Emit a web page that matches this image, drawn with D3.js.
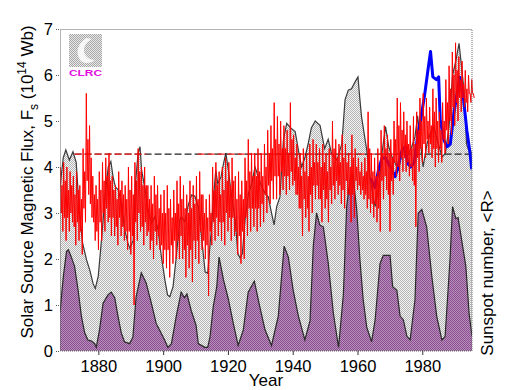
<!DOCTYPE html>
<html><head><meta charset="utf-8">
<script src="https://cdn.jsdelivr.net/npm/d3@7"></script>
<style>body{margin:0;background:#fff;} svg{display:block;font-family:"Liberation Sans",Arial,sans-serif;}</style>
</head><body><svg id="c" width="507" height="390"></svg>
<script>
// ---------- data ----------
const xTicks = [1880, 1900, 1920, 1940, 1960, 1980];
const yTicks = [0, 1, 2, 3, 4, 5, 6, 7];

// model open flux (grey filled curve)
const modelYears = [1868.0,1869.0,1869.8,1870.9,1872.0,1873.0,1874.0,1875.0,1876.2,1877.2,1878.2,1878.9,1879.8,1880.8,1881.9,1882.9,1883.7,1884.4,1885.1,1886.0,1887.0,1888.0,1889.0,1889.6,1890.6,1891.3,1892.1,1892.7,1893.2,1894.2,1895.2,1896.3,1897.3,1897.8,1898.3,1899.3,1900.4,1901.2,1901.9,1902.9,1903.9,1905.0,1905.5,1906.5,1907.6,1908.6,1909.6,1910.7,1911.8,1912.8,1913.6,1914.7,1915.4,1916.1,1916.7,1917.7,1918.5,1919.2,1920.0,1921.0,1922.1,1922.9,1923.6,1924.3,1925.2,1926.2,1927.2,1928.2,1929.3,1930.3,1931.3,1932.3,1933.1,1934.1,1934.9,1935.9,1937.0,1938.0,1939.2,1940.6,1941.6,1942.6,1943.6,1944.6,1945.6,1946.8,1948.3,1949.7,1950.8,1951.8,1953.5,1955.0,1956.0,1957.0,1958.0,1959.1,1960.0,1960.6,1961.1,1962.7,1963.7,1964.7,1965.3,1966.4,1967.4,1968.5,1969.5,1970.5,1971.5,1972.5,1973.6,1974.6,1975.6,1976.6,1977.6,1978.4,1979.2,1980.1,1981.3,1982.3,1983.4,1984.8,1986.0,1987.0,1988.1,1989.2,1990.2,1991.2,1992.3,1993.0,1993.5,1994.0,1995.2];
const modelFlux  = [3.55,4.2,4.37,4.15,4.33,4.1,3.0,2.34,1.98,1.76,1.47,1.36,1.62,2.41,3.35,4.0,4.12,3.78,3.57,3.5,3.21,2.63,2.34,2.23,2.41,3.64,4.3,4.44,3.93,3.54,3.07,2.78,2.92,2.78,2.63,2.05,1.54,1.22,1.18,1.4,2.05,2.85,2.92,2.81,3.17,3.39,3.37,3.14,2.41,1.72,1.69,2.63,3.35,3.93,3.64,3.78,4.08,4.3,3.93,3.35,2.85,2.12,2.02,2.12,2.92,3.43,3.64,4.0,3.78,3.57,3.43,3.35,3.07,2.74,3.14,3.35,4.6,4.95,4.85,4.77,4.37,4.0,4.2,4.5,4.85,5.0,4.9,4.4,4.6,4.3,4.15,4.5,5.46,5.67,5.7,5.85,5.96,5.46,5.09,4.37,3.79,3.35,3.14,3.57,4.3,4.88,4.44,4.22,4.08,3.93,4.3,4.37,4.3,4.44,4.66,5.11,4.6,4.0,4.5,4.73,4.88,4.5,4.22,4.3,4.88,6.0,6.3,6.69,5.96,5.46,4.5,4.4,4.3];

// sunspot number (purple filled curve, right axis)
const sunspotYears = [1868.0,1869.0,1870.0,1870.6,1871.5,1872.5,1873.6,1874.6,1875.6,1876.6,1877.6,1878.7,1879.2,1880.2,1881.3,1882.8,1883.8,1884.9,1885.9,1886.9,1887.9,1889.5,1890.5,1891.5,1893.1,1894.6,1896.2,1897.7,1898.7,1900.3,1901.3,1902.4,1903.9,1905.4,1906.4,1907.2,1908.5,1910.0,1910.7,1912.7,1913.6,1914.3,1915.3,1916.4,1917.1,1918.5,1920.0,1921.5,1923.0,1924.6,1926.1,1928.0,1929.7,1931.3,1933.3,1935.4,1937.2,1938.5,1940.0,1941.6,1943.6,1945.2,1946.2,1947.2,1948.2,1949.3,1950.8,1952.4,1954.0,1955.5,1956.5,1957.5,1958.4,1959.6,1960.6,1961.6,1962.7,1964.2,1965.3,1966.8,1967.8,1969.9,1970.7,1972.0,1973.0,1974.0,1975.1,1976.1,1977.6,1978.6,1979.7,1981.2,1982.8,1984.3,1985.9,1986.9,1988.4,1989.2,1990.2,1990.9,1993.3,1994.3,1995.2];
const sunspotR     = [42,80,108,110,102,92,66,38,20,12,11,8,4,23,52,61,64,58,38,20,10,8,15,59,85,74,52,30,23,12,4,8,38,64,58,62,44,28,8,4,4,15,48,70,102,77,56,30,6,23,64,76,48,23,6,38,114,102,66,38,12,33,114,150,137,135,96,41,4,62,157,186,192,154,99,56,26,10,34,95,104,104,70,66,38,34,16,12,56,150,154,135,81,38,12,16,99,157,144,145,92,41,16];

// IMF-derived flux (blue)
const blueYears = [1963.9,1965.3,1966.3,1967.4,1968.4,1969.4,1970.5,1971.5,1972.6,1973.6,1974.6,1975.3,1976.3,1977.4,1978.4,1979.5,1980.5,1981.6,1982.4,1983.1,1984.2,1984.9,1985.4,1986.5,1987.5,1988.5,1989.6,1990.6,1991.4,1992.5,1993.6,1994.6,1995.1];
const blueFlux  = [3.75,3.55,3.93,4.19,4.2,4.08,3.93,3.79,4.08,4.37,4.44,4.08,4.0,4.1,4.66,5.09,5.53,6.11,6.51,5.96,5.9,5.96,5.02,4.59,4.44,4.5,5.17,5.6,5.95,5.53,4.8,4.3,3.95];

// aa-derived flux (red), 1868..1995: per year, first-half high/low and second-half high/low
const redStartYear = 1868;
const redHiA = [4.0,4.1,4.0,3.9,3.8,3.9,3.6,4.4,5.6,4.9,
  3.8,3.6,3.9,4.1,4.2,4.3,3.8,3.6,3.9,3.7,
  3.6,4.0,3.8,4.1,4.4,4.0,4.0,3.6,3.6,3.8,
  3.6,3.4,3.5,3.6,3.3,3.5,3.7,3.8,3.6,3.4,
  3.7,3.6,3.8,3.9,3.4,3.3,3.4,4.0,4.1,3.9,
  4.0,4.2,4.1,4.2,3.8,3.9,3.7,4.2,4.6,4.3,
  4.3,4.4,4.3,4.5,4.8,4.9,5.4,5.1,5.0,4.9,
  4.8,5.4,4.7,4.5,4.3,4.4,4.3,4.5,4.6,4.5,
  4.4,4.5,4.3,4.4,5.0,4.6,4.5,4.7,4.5,4.3,
  4.7,4.4,4.2,4.1,4.2,5.2,4.3,4.2,4.4,4.8,
  4.9,4.7,4.6,5.0,5.5,5.4,5.2,5.0,4.9,5.1,
  5.2,5.5,5.6,5.5,5.3,5.7,5.5,5.2,5.4,5.9,
  6.2,6.5,6.7,6.4,6.3,6.1,6.0,5.9];
const redLoA = [2.6,2.4,2.6,2.8,2.3,2.4,2.1,2.8,3.4,2.9,
  2.4,2.2,2.4,2.6,2.8,2.5,2.5,2.3,2.5,2.4,
  2.2,2.1,1.0,2.4,2.6,2.3,2.5,2.2,2.0,2.3,
  2.2,1.9,1.8,1.6,1.9,2.0,2.0,2.0,1.6,1.8,
  1.5,2.0,1.9,2.2,2.0,1.2,2.3,2.4,2.5,2.4,
  2.3,2.6,2.4,2.5,2.1,1.9,2.0,2.5,2.6,2.7,
  2.6,2.7,2.8,3.0,3.2,3.3,3.3,3.4,3.5,3.4,
  3.5,3.6,3.4,3.1,2.5,2.9,2.6,3.0,3.3,3.3,
  2.8,3.1,2.8,3.2,3.3,3.4,3.2,3.1,3.4,2.8,
  2.9,3.5,3.4,3.3,3.1,3.0,2.9,2.8,2.6,3.3,
  3.5,2.6,3.4,3.8,3.7,3.9,3.9,3.8,3.7,2.7,
  3.9,4.1,4.2,4.3,4.2,4.0,4.1,4.1,4.3,4.5,
  4.7,4.9,5.0,5.2,5.3,5.2,5.4,5.5];
const redHiB = [3.6,3.7,3.5,3.6,3.4,3.5,3.3,3.9,4.6,4.2,
  3.4,3.3,3.5,3.7,3.8,3.7,3.5,3.3,3.5,3.4,
  3.3,3.5,3.4,3.7,3.9,3.6,3.6,3.3,3.2,3.4,
  3.1,3.0,3.0,3.1,2.9,3.0,3.2,3.3,3.1,3.0,
  3.1,3.2,3.3,3.4,3.0,2.9,3.0,3.5,3.6,3.4,
  3.5,3.7,3.6,3.7,3.3,3.4,3.3,3.7,3.9,3.8,
  3.8,3.9,3.8,4.0,4.3,4.4,4.6,4.5,4.4,4.4,
  4.3,4.6,4.2,4.0,3.8,3.9,3.8,4.0,4.1,4.1,
  4.0,4.1,3.9,4.0,4.4,4.2,4.1,4.2,4.1,4.0,
  4.2,4.0,3.9,3.8,3.9,4.4,3.9,3.8,3.9,4.3,
  4.4,4.3,4.2,4.6,4.9,4.8,4.7,4.5,4.4,4.5,
  4.8,5.0,5.1,5.0,4.9,5.2,5.0,4.8,5.0,5.4,
  5.7,6.0,6.1,5.9,5.8,5.7,5.6,5.6];
const redLoB = [3.0,2.9,2.9,3.0,2.7,2.8,2.6,3.1,3.7,3.2,
  2.8,2.6,2.8,3.0,3.1,2.9,2.9,2.7,2.9,2.7,
  2.6,2.6,2.5,2.8,3.0,2.7,2.8,2.6,2.4,2.6,
  2.5,2.3,2.2,2.2,2.3,2.4,2.4,2.5,2.2,2.3,
  2.2,2.4,2.4,2.6,2.4,2.3,2.6,2.8,2.9,2.8,
  2.8,3.0,2.9,2.9,2.6,2.5,2.6,2.9,3.1,3.1,
  3.1,3.1,3.2,3.4,3.6,3.7,3.8,3.8,3.9,3.8,
  3.8,3.9,3.7,3.4,3.1,3.3,3.1,3.4,3.6,3.6,
  3.3,3.5,3.3,3.5,3.6,3.7,3.6,3.5,3.7,3.4,
  3.4,3.7,3.6,3.5,3.4,3.3,3.2,3.2,3.1,3.7,
  3.8,3.4,3.7,4.1,4.0,4.2,4.2,4.1,4.0,3.6,
  4.2,4.4,4.5,4.6,4.5,4.4,4.4,4.4,4.6,4.8,
  5.0,5.3,5.4,5.5,5.5,5.4,5.6,5.6];

const refLevel = 4.28;
const refStart = 1872.5, refEnd = 1995.2;
const refRedSpans = [[1872.5, 1894.6], [1910.5, 1976.0]];

// ---------- drawing ----------
const svg = d3.select("#c");
const x = d3.scaleLinear().domain([1868, 1995.2]).range([60, 472]);
const y = d3.scaleLinear().domain([0, 7]).range([351, 29]);
const yR = d3.scaleLinear().domain([0, 350]).range([351, 29]);

const defs = svg.append("defs");
function checker(id, a, b) {
  const p = defs.append("pattern").attr("id", id).attr("width", 2).attr("height", 2)
    .attr("patternUnits", "userSpaceOnUse");
  p.append("rect").attr("width", 2).attr("height", 2).attr("fill", b);
  p.append("rect").attr("x", 0).attr("y", 0).attr("width", 1).attr("height", 1).attr("fill", a);
  p.append("rect").attr("x", 1).attr("y", 1).attr("width", 1).attr("height", 1).attr("fill", a);
}
checker("greyPat", "#b4b4b4", "#f4f4f4");
checker("purplePat", "#8a4c8e", "#b892bc");
checker("logoPat", "#a8a8a8", "#e8e8e8");
defs.append("clipPath").attr("id", "plotClip").append("rect")
  .attr("x", 60).attr("y", 29).attr("width", 412).attr("height", 322);

const plot = svg.append("g").attr("clip-path", "url(#plotClip)");

const model = modelYears.map((t, i) => [t, modelFlux[i]]);
const spots = sunspotYears.map((t, i) => [t, sunspotR[i]]);
const blue = blueYears.map((t, i) => [t, blueFlux[i]]);
const red = [];
redHiA.forEach((h, i) => {
  const t = redStartYear + i;
  red.push([t + 0.125, h]);
  red.push([t + 0.375, redLoB[i]]);
  red.push([t + 0.625, redHiB[i]]);
  red.push([t + 0.875, redLoA[i]]);
});

plot.append("path").datum(model)
  .attr("d", d3.area().x(d => x(d[0])).y0(y(0)).y1(d => y(d[1])))
  .attr("fill", "url(#greyPat)");
plot.append("path").datum(spots)
  .attr("d", d3.area().x(d => x(d[0])).y0(y(0)).y1(d => yR(d[1])))
  .attr("fill", "url(#purplePat)");
plot.append("path").datum(model)
  .attr("d", d3.line().x(d => x(d[0])).y(d => y(d[1])))
  .attr("fill", "none").attr("stroke", "#3a3a3a").attr("stroke-width", 1.2);
plot.append("path").datum(spots)
  .attr("d", d3.line().x(d => x(d[0])).y(d => yR(d[1])))
  .attr("fill", "none").attr("stroke", "#2a2a2a").attr("stroke-width", 1.2);

// reference level
plot.append("line").attr("x1", x(refStart)).attr("x2", x(refEnd))
  .attr("y1", y(refLevel)).attr("y2", y(refLevel))
  .attr("stroke", "#222").attr("stroke-width", 1.3).attr("stroke-dasharray", "7,3");
refRedSpans.forEach(s => {
  plot.append("line").attr("x1", x(s[0])).attr("x2", x(s[1]))
    .attr("y1", y(refLevel)).attr("y2", y(refLevel))
    .attr("stroke", "#ff2020").attr("stroke-width", 1.3).attr("stroke-dasharray", "7,3");
});

svg.append("path").datum(red)
  .attr("d", d3.line().x(d => x(d[0])).y(d => y(d[1])))
  .attr("fill", "none").attr("stroke", "#ff0000").attr("stroke-width", 1);

plot.append("path").datum(blue)
  .attr("d", d3.line().x(d => x(d[0])).y(d => y(d[1])))
  .attr("fill", "none").attr("stroke", "#0000ff").attr("stroke-width", 3)
  .attr("stroke-linejoin", "round");

// frame (dotted)
const frame = svg.append("g").attr("stroke", "#666").attr("stroke-width", 1)
  .attr("stroke-dasharray", "1,1").attr("fill", "none");
frame.append("rect").attr("x", 60.5).attr("y", 29.5).attr("width", 411.5).attr("height", 321.5);

// y axis
const ya = svg.append("g");
yTicks.forEach(v => {
  ya.append("line").attr("x1", 56).attr("x2", 60).attr("y1", y(v) + 0.5).attr("y2", y(v) + 0.5)
    .attr("stroke", "#555").attr("stroke-dasharray", "1,1");
  ya.append("text").attr("x", 53).attr("y", y(v) + 6).attr("text-anchor", "end")
    .attr("font-size", 16.5).attr("fill", "#000").text(d3.format("d")(v));
});
// x axis
const xa = svg.append("g");
xTicks.forEach(v => {
  xa.append("line").attr("x1", x(v)).attr("x2", x(v)).attr("y1", 351).attr("y2", 355)
    .attr("stroke", "#333");
  xa.append("text").attr("x", x(v)).attr("y", 372).attr("text-anchor", "middle")
    .attr("font-size", 16.5).attr("fill", "#000").text(v);
});

svg.append("text").attr("x", 266).attr("y", 386).attr("text-anchor", "middle")
  .attr("font-size", 17).text("Year");

const lt = svg.append("text").attr("transform", "translate(33,182) rotate(-90)")
  .attr("text-anchor", "middle").attr("font-size", 17);
lt.append("tspan").text("Solar Source Magnetic Flux, F");
lt.append("tspan").attr("font-size", 12).attr("dy", 5).text("s");
lt.append("tspan").attr("dy", -5).text(" (10");
lt.append("tspan").attr("font-size", 12).attr("dy", -7).text("14");
lt.append("tspan").attr("dy", 7).text(" Wb)");

svg.append("text").attr("transform", "translate(493,273) rotate(-90)")
  .attr("text-anchor", "middle").attr("font-size", 17).text("Sunspot number, <R>");

// CLRC logo
const logo = svg.append("g");
logo.append("rect").attr("x", 69).attr("y", 34).attr("width", 33).attr("height", 33)
  .attr("fill", "url(#logoPat)");
logo.append("path")
  .attr("d", "M86,38 C78,44 75,52 80,60 C83,64 90,64 95,60 C89,60 84,56 84,50 C84,45 88,41 92,39 Z")
  .attr("fill", "#ffffff").attr("opacity", 0.85);
logo.append("text").attr("x", 85.5).attr("y", 76).attr("text-anchor", "middle")
  .attr("font-size", 9).attr("font-weight", "bold").attr("fill", "#e010e0")
  .attr("textLength", 33).attr("lengthAdjust", "spacingAndGlyphs").text("CLRC");
</script></body></html>
